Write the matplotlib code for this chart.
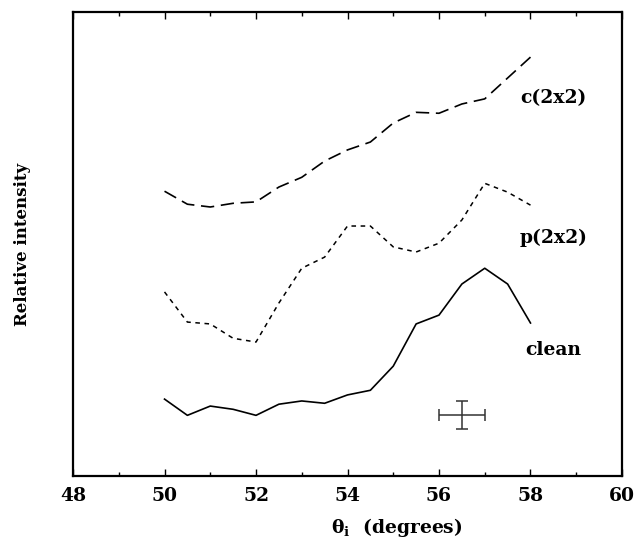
import matplotlib.pyplot as plt
import numpy as np

# incidence angle (degrees), sampled every 0.5
theta = np.arange(50, 58.01, 0.5)

# relative intensity, arbitrary offsets as in the original figure
clean = [16.6, 13.1, 15.1, 14.4, 13.1, 15.5, 16.2, 15.7, 17.5, 18.5,
         23.7, 32.8, 34.7, 41.4, 44.8, 41.4, 33.0]
p2x2 = [39.7, 33.2, 32.8, 29.7, 28.9, 37.3, 44.8, 47.2, 53.9, 53.9,
        49.4, 48.3, 50.2, 55.2, 63.1, 61.2, 58.4]
c2x2 = [61.4, 58.6, 58.0, 58.8, 59.1, 62.3, 64.4, 67.9, 70.3, 72.0,
        76.1, 78.4, 78.2, 80.2, 81.3, 85.8, 90.3]

err_x, err_y = 56.5, 13.1
err_dx, err_dy = 0.5, 3.0

plt.rcParams['font.family'] = ['DejaVu Serif']
plt.rcParams['font.weight'] = 'bold'
plt.rcParams['mathtext.fontset'] = 'dejavuserif'

fig = plt.figure(figsize=(6.35, 5.38), dpi=100)
ax = fig.add_axes([0.115, 0.115, 0.8645, 0.8625])

ax.plot(theta, c2x2, color='black', lw=1.2, dashes=(8, 4))
ax.plot(theta, p2x2, color='black', lw=1.1, dashes=(3, 3))
ax.plot(theta, clean, color='black', lw=1.2)

ax.errorbar(err_x, err_y, xerr=err_dx, yerr=err_dy, color='#333333',
            lw=1.1, capsize=4, capthick=1.1)

fs = 13.5
ax.text(57.77, 81.5, 'c(2x2)', fontsize=fs, fontweight='bold', va='center')
ax.text(57.77, 51.3, 'p(2x2)', fontsize=fs, fontweight='bold', va='center')
ax.text(57.88, 27.2, 'clean', fontsize=fs, fontweight='bold', va='center')

ax.set_xlim(48, 60)
ax.set_ylim(0, 100)
ax.set_xticks([48, 50, 52, 54, 56, 58, 60])
ax.set_xticks([49, 51, 53, 55, 57, 59], minor=True)
ax.set_yticks([])
ax.tick_params(axis='x', which='major', direction='in', length=5, width=1,
               top=True, labelsize=fs, pad=8)
ax.tick_params(axis='x', which='minor', direction='in', length=3, width=1,
               top=True)
for lbl in ax.get_xticklabels():
    lbl.set_fontweight('bold')
for s in ax.spines.values():
    s.set_linewidth(1.6)

ax.set_ylabel('Relative intensity', fontsize=12, fontweight='bold')
ax.yaxis.set_label_coords(-0.076, 0.5)
ax.set_xlabel(r'$\mathbf{\theta}_{\rm i}$  (degrees)', fontsize=fs,
              fontweight='bold')
ax.xaxis.set_label_coords(0.59, -0.085)

fig.savefig('out.png', dpi=100)
